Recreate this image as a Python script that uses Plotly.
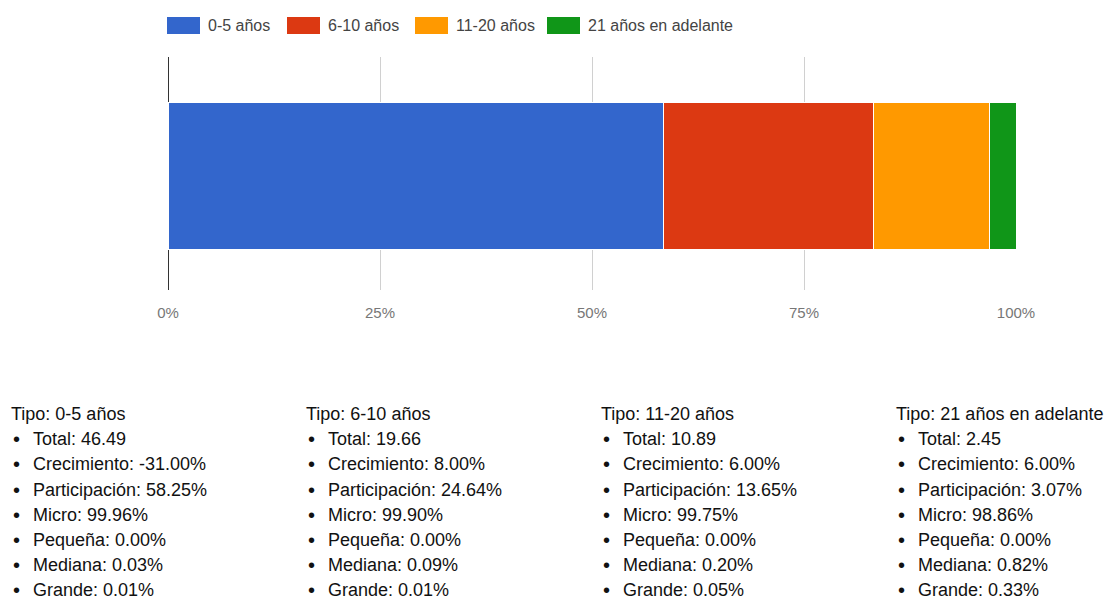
import plotly.graph_objects as go

# Company age groups and their totals
tipos = ["0-5 años", "6-10 años", "11-20 años", "21 años en adelante"]
totales = [46.49, 19.66, 10.89, 2.45]
crecimiento = ["-31.00%", "8.00%", "6.00%", "6.00%"]
participacion = ["58.25%", "24.64%", "13.65%", "3.07%"]
micro = ["99.96%", "99.90%", "99.75%", "98.86%"]
pequena = ["0.00%", "0.00%", "0.00%", "0.00%"]
mediana = ["0.03%", "0.09%", "0.20%", "0.82%"]
grande = ["0.01%", "0.01%", "0.05%", "0.33%"]

colores = ["#3366cc", "#dc3912", "#ff9900", "#109618"]
tick_vals = [0, 25, 50, 75, 100]
tick_text = ["0%", "25%", "50%", "75%", "100%"]

W, H = 1108, 604
M_L, M_R, M_T, M_B = 168, 92, 57, 314
PW, PH = W - M_L - M_R, H - M_T - M_B


def px_x(px):
    return (px - M_L) / PW


def px_y(py):
    return (H - M_B - py) / PH


fig = go.Figure()
for tipo, total, color in zip(tipos, totales, colores):
    fig.add_trace(go.Bar(
        y=["Tipo"], x=[total], name=tipo, orientation="h",
        marker=dict(color=color, line=dict(color="white", width=1)),
        showlegend=False,
    ))

shapes = []
annotations = []

# Legend row across the top
legend_x = [167, 287, 415, 547]
for i, (tipo, color) in enumerate(zip(tipos, colores)):
    x0 = legend_x[i]
    shapes.append(dict(type="rect", xref="paper", yref="paper",
                       x0=px_x(x0), x1=px_x(x0 + 33), y0=px_y(34), y1=px_y(17),
                       fillcolor=color, line=dict(width=0)))
    annotations.append(dict(text=tipo, xref="paper", yref="paper",
                            x=px_x(x0 + 39), y=px_y(25.5), xanchor="left", yanchor="middle",
                            showarrow=False,
                            font=dict(family="Arial, Liberation Sans", size=16, color="#444444")))

# Detail blocks beneath the chart
col_x = [10, 305, 600, 895]
line_y0, line_step = 414, 25.2
txt_font = dict(family="Arial, Liberation Sans", size=18, color="#111111")
dot_font = dict(family="Arial, Liberation Sans", size=20, color="#111111")
for i, tipo in enumerate(tipos):
    cx = col_x[i]
    annotations.append(dict(text=f"Tipo: {tipo}", xref="paper", yref="paper",
                            x=px_x(cx), y=px_y(line_y0), xanchor="left", yanchor="middle",
                            showarrow=False, borderpad=0, font=txt_font))
    items = [
        f"Total: {totales[i]:.2f}",
        f"Crecimiento: {crecimiento[i]}",
        f"Participación: {participacion[i]}",
        f"Micro: {micro[i]}",
        f"Pequeña: {pequena[i]}",
        f"Mediana: {mediana[i]}",
        f"Grande: {grande[i]}",
    ]
    for j, item in enumerate(items):
        yy = line_y0 + (j + 1) * line_step
        annotations.append(dict(text="•", xref="paper", yref="paper",
                                x=px_x(cx + 2), y=px_y(yy), xanchor="left", yanchor="middle",
                                showarrow=False, borderpad=0, font=dot_font))
        annotations.append(dict(text=item, xref="paper", yref="paper",
                                x=px_x(cx + 22), y=px_y(yy), xanchor="left", yanchor="middle",
                                showarrow=False, borderpad=0, font=txt_font))

fig.update_layout(
    width=W, height=H,
    margin=dict(l=M_L, r=M_R, t=M_T, b=M_B, pad=0),
    barmode="stack", barnorm="percent", bargap=0.37,
    paper_bgcolor="white", plot_bgcolor="white",
    shapes=shapes, annotations=annotations,
    xaxis=dict(range=[0, 100], tickvals=tick_vals, ticktext=tick_text,
               showgrid=True, gridcolor="#d0d0d0", gridwidth=1,
               zeroline=True, zerolinecolor="#333333", zerolinewidth=1,
               showline=False, ticks="", ticklabelstandoff=12,
               tickfont=dict(family="Arial, Liberation Sans", size=15, color="#777777"),
               fixedrange=True),
    yaxis=dict(range=[-0.49, 0.51], showticklabels=False, showgrid=False,
               zeroline=False, showline=False, fixedrange=True),
    font=dict(family="Arial, Liberation Sans"),
)

fig.write_html("out.html")
